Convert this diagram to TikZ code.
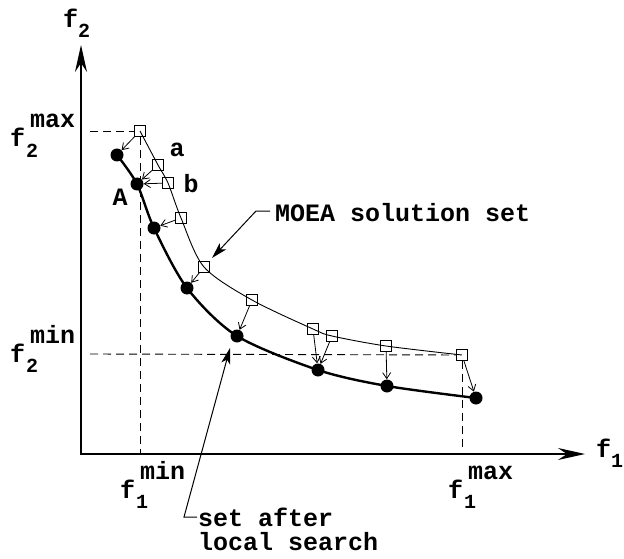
\documentclass[tikz,border=0pt]{standalone}
\usepackage{fontspec}
\setmainfont{Liberation Mono}
\usetikzlibrary{arrows.meta}
\newcommand{\subsz}[1]{{\fontsize{20}{20}\selectfont #1}}
\newcommand{\flab}[2]{f\rlap{\hspace{1pt}\raisebox{-10pt}{\subsz{#1}}}\hspace{5pt}\raisebox{19pt}{#2}}
\newcommand{\faxis}[1]{f\raisebox{-10pt}{\subsz{#1}}}
\begin{document}
\begin{tikzpicture}[x=1pt,y=-1pt,
  lbl/.style={font=\fontsize{25}{25}\selectfont\bfseries, inner sep=0pt},
  sq/.style={draw, rectangle, minimum size=11pt, inner sep=0pt, line width=0.8pt},
  dot/.style={fill, circle, minimum size=13pt, inner sep=0pt},
  axis/.style={line width=1.4pt, {Stealth[length=27pt,width=12pt,inset=9pt]}-{Stealth[length=27pt,width=12pt,inset=9pt]}},
  guide/.style={dash pattern=on 8pt off 5pt, line width=0.9pt},
  move/.style={line width=0.8pt, -{Straight Barb[length=6pt,width=8pt]}},
  callout/.style={line width=1pt, -{Stealth[length=16pt,width=9pt,inset=4pt]}},
  moeacurve/.style={line width=0.9pt},
  lscurve/.style={line width=2.4pt},
  ]
\useasboundingbox (0,0) rectangle (624,559);

% axes
\coordinate (o) at (81,454);
\coordinate (xe) at (585,454);
\coordinate (ye) at (81,45);
\draw[axis] (ye) -- (o) -- (xe);

% MOEA solutions
\node[sq] (s1) at (140,131) {};
\node[sq] (s2) at (158,165) {};
\node[sq] (s3) at (168,183) {};
\node[sq] (s4) at (181,218) {};
\node[sq] (s5) at (204,267) {};
\node[sq] (s6) at (252,300) {};
\node[sq] (s7) at (313,329) {};
\node[sq] (s8) at (332,336) {};
\node[sq] (s9) at (386,346) {};
\node[sq] (s10) at (462,355) {};

% after local search
\node[dot] (d1) at (117,155) {};
\node[dot] (d2) at (137,184) {};
\node[dot] (d3) at (154,228) {};
\node[dot] (d4) at (187,288) {};
\node[dot] (d5) at (237,336) {};
\node[dot] (d6) at (318,370) {};
\node[dot] (d7) at (387,386) {};
\node[dot] (d8) at (476,398) {};

% guides
\coordinate (g1) at (90,131);
\coordinate (g2) at (90,354);
\coordinate (g3) at (462,447);
\draw[guide] (g1) -- (s1);
\draw[guide] (s1) -- (s1 |- o);
\draw[guide] (g2) -- (s10);
\draw[guide] (s10) -- (g3);

% curves
\draw[moeacurve] plot[smooth, tension=0.5] coordinates {(s1.center) (s2.center) (s3.center) (s4.center) (s5.center) (s6.center) (s7.center) (s8.center) (s9.center) (s10.center)};
\draw[lscurve] plot[smooth, tension=0.5] coordinates {(d1.center) (d2.center) (d3.center) (d4.center) (d5.center) (d6.center) (d7.center) (d8.center)};

% moves
\draw[move] (s1) -- (d1);
\draw[move] (s2) -- (d2);
\draw[move] (s3) -- (d2);
\draw[move] (s4) -- (d3);
\draw[move] (s5) -- (d4);
\draw[move] (s6) -- (d5);
\draw[move] (s7) -- (d6);
\draw[move] (s8) -- (d6);
\draw[move] (s9) -- (d7);
\draw[move] (s10) -- (d8);

% point labels
\node[lbl, anchor=base] (la) at (177,157) {a};
\node[lbl, anchor=base] (lb) at (191,193) {b};
\node[lbl, anchor=base] (lA) at (120,205) {A};

% callouts
\node[lbl, anchor=base west] (moea) at (275,222) {MOEA solution set};
\coordinate (m0) at (270,211);
\coordinate (m1) at (256,211);
\coordinate (mt) at (212,258);
\draw[callout] (m0) -- (m1) -- (mt);

\node[lbl, align=left, anchor=north west, font=\fontsize{25}{24}\selectfont\bfseries] (sa) at (198,508) {set after\\local search};
\coordinate (c0) at (197,517);
\coordinate (c1) at (184,517);
\coordinate (ct) at (230,348);
\draw[callout] (c0) -- (c1) -- (ct);

% axis labels
\node[lbl, anchor=base west] (f2) at (63,28) {\faxis{2}};
\node[lbl, anchor=base west] (f1) at (596,457) {\faxis{1}};
\node[lbl, anchor=base west] (f2max) at (10,147) {\flab{2}{max}};
\node[lbl, anchor=base west] (f2min) at (10,362) {\flab{2}{min}};
\node[lbl, anchor=base west] (f1min) at (120,498) {\flab{1}{min}};
\node[lbl, anchor=base west] (f1max) at (448,498) {\flab{1}{max}};
\end{tikzpicture}
\end{document}
